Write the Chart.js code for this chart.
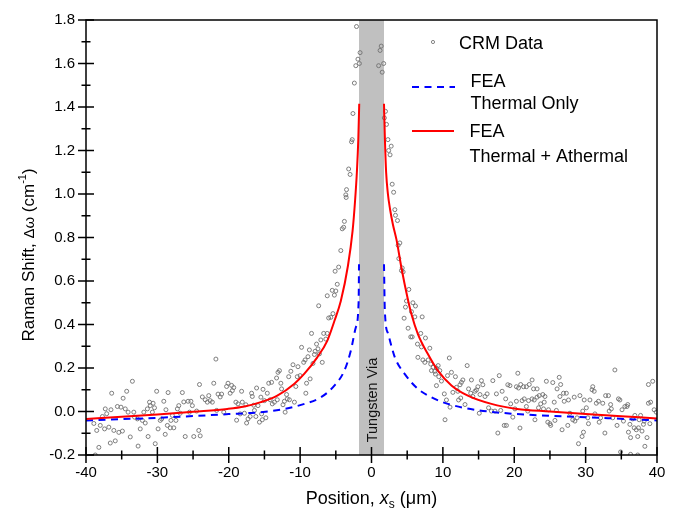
<!DOCTYPE html>
<html>
<head>
<meta charset="utf-8">
<script src="https://cdn.jsdelivr.net/npm/chart.js@4.4.0/dist/chart.umd.min.js"></script>
<style>
  html, body { margin: 0; padding: 0; background: #fff; }
  #wrap { width: 678px; height: 515px; }
</style>
</head>
<body>
<div id="wrap"><canvas id="myChart" width="678" height="515"></canvas></div>
<script>
'use strict';

const crmPoints = [
    [-38.7,-0.200],[-38.2,-0.165],[-38.9,-0.055],[-38.5,-0.087],[-38.0,-0.064],[-37.7,-0.023],[-37.4,-0.080],[-37.1,-0.010],
    [-37.3,0.012],[-36.8,-0.072],[-36.6,-0.145],[-36.5,0.008],[-36.4,0.084],[-36.1,-0.087],[-35.9,-0.135],[-35.6,0.023],
    [-35.4,-0.096],[-35.1,0.020],[-34.8,0.061],[-34.9,-0.090],[-34.5,0.012],[-34.3,0.093],[-34.1,-0.003],[-33.8,-0.117],
    [-33.5,0.139],[-33.3,-0.003],[-33.2,-0.026],[-32.8,-0.034],[-32.7,-0.159],[-32.4,-0.080],[-32.1,-0.041],[-31.9,-0.003],
    [-31.7,-0.053],[-31.4,0.012],[-31.3,-0.115],[-31.1,0.043],[-31.0,0.027],[-30.7,-0.003],[-30.6,0.038],[-30.4,0.017],
    [-30.3,-0.148],[-30.1,0.093],[-29.9,-0.080],[-29.6,-0.041],[-29.4,-0.034],[-29.1,0.047],[-28.9,-0.105],[-28.8,0.008],
    [-28.6,-0.064],[-28.5,0.087],[-28.2,-0.075],[-28.1,-0.041],[-27.9,-0.018],[-27.7,-0.075],[-27.4,-0.041],[-27.2,0.012],
    [-27.0,0.027],[-26.8,-0.008],[-26.5,0.087],[-26.3,0.044],[-26.1,-0.115],[-25.7,0.047],[-25.5,-0.003],[-25.3,0.047],
    [-25.1,0.027],[-24.9,-0.115],[-24.5,0.002],[-24.2,-0.087],[-24.1,0.124],[-24.0,-0.112],[-23.7,0.067],[-23.3,0.054],
    [-23.0,0.043],[-22.8,0.073],[-22.6,0.050],[-22.3,0.043],[-22.1,0.130],[-21.8,0.241],[-21.7,0.005],[-21.5,0.080],
    [-21.2,0.067],[-21.0,0.080],[-20.7,-0.003],[-20.3,0.115],[-20.1,0.130],
    [-19.6,0.120],[-19.5,0.096],[-19.3,0.110],[-19.8,0.084],[-19.0,0.043],[-18.7,0.035],[-18.2,0.093],[-18.4,-0.011],
    [-18.9,-0.040],[-18.1,0.043],[-17.8,-0.008],[-17.6,0.031],[-17.5,-0.053],[-17.3,-0.034],[-17.0,-0.023],[-16.8,0.084],
    [-16.7,0.069],[-16.5,0.029],[-16.4,0.005],[-16.2,-0.023],[-16.1,0.108],[-15.9,0.027],[-15.7,-0.049],[-15.5,0.066],
    [-15.4,-0.011],[-15.3,-0.038],[-15.2,0.102],[-15.0,0.050],[-14.8,-0.029],[-14.6,0.084],[-14.4,0.130],[-14.2,0.054],
    [-14.0,0.134],[-13.9,0.035],[-13.6,0.043],[-13.3,0.154],[-13.2,0.054],[-13.1,0.180],[-12.9,0.188],[-12.7,0.130],
    [-12.6,0.104],[-12.4,0.031],[-12.2,0.047],[-12.1,-0.003],[-11.9,0.078],[-11.8,0.058],[-11.5,0.054],[-11.6,0.160],
    [-11.3,0.185],[-11.0,0.215],[-10.8,0.043],[-10.6,0.115],[-10.4,0.160],[-10.3,0.206],[-10.0,0.165],[-9.8,0.295],
    [-9.5,0.226],[-9.3,0.237],[-9.2,0.084],[-9.1,0.130],[-8.9,0.252],[-8.7,0.283],[-8.6,0.150],[-8.4,0.359],
    [-8.2,0.221],[-8.0,0.262],[-7.9,0.277],[-7.7,0.310],[-7.5,0.288],[-7.3,0.265],[-7.4,0.486],[-7.1,0.329],
    [-6.9,0.226],[-6.7,0.359],[-6.4,0.333],[-6.2,0.532],[-6.2,0.359],[-6.0,0.430],[-5.7,0.433],[-5.5,0.557],
    [-5.4,0.450],[-5.2,0.535],[-5.0,0.554],[-4.8,0.585],[-5.1,0.645],[-4.6,0.664],[-4.3,0.740],[-4.1,0.840],
    [-3.9,0.847],[-3.8,0.874],
    [-3.55,0.984],[-3.6,0.996],[-3.5,1.020],[-3.0,1.090],[-3.2,1.115],[-2.8,1.240],[-2.7,1.250],[-2.6,1.370],
    [-2.4,1.510],[-2.2,1.590],[-1.7,1.600],[-1.9,1.620],[-1.6,1.650],[-2.1,1.770],
    [1.0,1.590],[1.2,1.660],[1.36,1.680],[1.5,1.560],[1.7,1.600],[1.8,1.350],[1.96,1.380],[2.1,1.320],
    [2.3,1.250],[2.4,1.200],[2.6,1.180],[2.76,1.220],[2.9,1.045],[3.1,1.008],
    [3.27,0.928],[3.36,0.902],[3.64,0.878],[3.97,0.775],[3.73,0.764],[3.83,0.703],[4.3,0.660],[4.43,0.642],
    [4.2,0.648],[5.23,0.561],[4.9,0.508],[5.8,0.500],[6.16,0.485],[5.6,0.459],[4.76,0.480],[4.57,0.429],
    [6.07,0.435],[7.1,0.435],[5.13,0.383],[5.5,0.343],[5.7,0.343],[6.9,0.359],[7.56,0.338],[6.44,0.310],
    [7.0,0.297],[8.17,0.291],[6.5,0.249],[7.2,0.237],[7.47,0.226],[7.94,0.237],[8.3,0.218],[8.64,0.203],
    [8.4,0.188],[8.87,0.185],[9.1,0.200],[9.34,0.211],[9.57,0.188],[8.96,0.172],[9.43,0.160],[10.9,0.246],
    [11.2,0.180],[9.8,0.140],[9.1,0.119],[10.2,0.081],[10.5,0.053],[10.65,0.165],[11.0,0.020],[10.3,-0.038],
    [11.4,0.088],[11.76,0.160],[11.9,0.111],[12.1,0.093],[12.4,0.123],[12.6,0.134],[12.8,0.145],[12.2,0.053],
    [12.5,0.062],[13.1,0.032],[13.4,0.211],[13.6,0.104],[13.9,0.084],[14.0,0.145],[14.2,0.069],[14.5,0.093],
    [14.7,0.099],[14.9,0.114],[15.2,0.078],[15.4,0.142],[15.6,0.123],[15.1,-0.008],[15.9,0.069],[16.2,0.081],
    [16.4,0.017],[16.8,0.002],[17.0,0.142],[17.3,0.002],[17.5,0.081],[17.7,-0.099],[17.9,0.165],[18.1,0.005],
    [18.3,0.093],[18.6,-0.064],[18.9,-0.064],[18.8,0.058],[19.1,0.123],[19.4,0.119],[19.5,0.035],[19.8,-0.026],
    [20.1,0.012],
    [20.5,0.176],[20.3,0.114],[20.6,0.108],[20.9,0.124],[21.3,0.114],[21.7,0.114],[22.1,0.124],[22.5,0.145],
    [22.7,0.104],[23.2,0.104],[20.3,0.047],[21.1,0.050],[21.4,0.058],[22.0,0.050],[22.5,0.058],[22.8,0.053],
    [23.2,0.066],[23.5,0.073],[24.0,0.078],[24.3,0.069],[21.7,0.023],[21.9,0.002],[22.9,-0.038],[23.4,0.017],
    [23.7,0.035],[24.1,0.012],[24.2,0.043],[20.8,-0.076],[24.5,0.139],[24.8,0.008],[24.7,-0.049],[25.0,-0.056],
    [25.1,-0.064],[25.4,0.133],[25.6,0.043],[25.7,-0.041],[25.9,0.005],[26.0,0.104],[26.3,0.157],[26.4,0.069],
    [26.5,0.124],[26.7,-0.084],[26.9,0.084],[27.0,0.047],[27.3,0.084],[27.5,-0.064],[27.6,0.053],[27.8,-0.008],
    [28.2,-0.038],[28.4,0.066],[28.5,-0.044],[28.8,-0.029],[29.0,-0.148],[29.2,0.073],[29.5,-0.115],[29.6,0.002],
    [29.7,-0.095],[29.8,0.053],[30.1,0.017],[30.3,-0.029],[30.4,-0.056],[30.6,0.053],[30.9,0.100],[31.0,0.114],
    [31.2,0.093],[31.3,-0.011],[31.5,0.038],[31.8,0.047],[31.9,-0.049],[32.1,-0.029],[32.4,0.038],[32.7,-0.099],
    [32.8,0.073],[33.2,0.073],[33.3,0.002],[33.5,0.032],[33.6,0.012],[33.8,-0.029],[34.1,0.191],[34.4,-0.064],
    [34.6,0.058],[34.8,0.053],[34.9,-0.186],[35.1,0.008],[35.3,-0.044],[35.5,0.023],[35.8,0.023],[35.9,0.032],
    [36.0,-0.095],[36.2,-0.059],[36.3,-0.120],[36.3,-0.197],[36.6,-0.034],[36.8,-0.075],[36.9,-0.018],[37.1,-0.084],
    [37.3,-0.115],[37.4,-0.075],[37.5,-0.038],[37.7,-0.018],[37.9,-0.090],[38.1,-0.059],[38.2,-0.044],[38.3,-0.160],
    [38.6,-0.120],[38.8,0.038],[39.0,-0.056],[39.1,0.043],[38.8,0.124],[39.4,0.139],[39.6,0.008],[39.9,-0.003],
    [37.3,-0.200]
];

// FEA thermal + athermal (red), null splits the two sides of the via
const redX = [-40,-35,-30,-25,-20.2,-17.8,-15.5,-13.2,-10.8,-9.4,-7.6,-6.2,-5.2,-4.3,-3.3,-2.65,-2.3,-2.05,-1.85,-1.72,
              0,
              1.75,1.88,2.05,2.3,2.6,3.0,3.5,4.2,5.0,5.6,6.5,7.9,9.3,11.2,13.5,16.8,20.4,25,30,35,40];
const redY = [-0.034,-0.024,-0.014,-0.001,0.012,0.023,0.043,0.073,0.128,0.174,0.249,0.325,0.416,0.508,0.67,0.83,0.97,1.10,1.25,1.415,
              null,
              1.415,1.25,1.10,1.0,0.93,0.86,0.79,0.66,0.53,0.447,0.356,0.264,0.188,0.12,0.073,0.035,0.012,0.0,-0.012,-0.022,-0.032];

// FEA thermal only (blue dashed)
const blueX = [-40,-30,-20,-15.5,-12.2,-9.4,-7.1,-5.2,-3.8,-2.9,-2.2,-1.8,-1.75,
               0,
               1.75,1.87,2.33,3.27,4.67,6.5,8.4,10.7,14.5,20.1,30,40];
const blueY = [-0.041,-0.029,-0.012,-0.003,0.012,0.035,0.065,0.119,0.188,0.279,0.386,0.508,0.677,
               null,
               0.677,0.462,0.357,0.249,0.172,0.104,0.065,0.035,0.008,-0.011,-0.026,-0.041];

const viaRange = [-1.75, 1.75];
const xTicks = [-40,-30,-20,-10,0,10,20,30,40];
const xMinor = [-35,-25,-15,-5,5,15,25,35];
const yTicks = [-0.2,0,0.2,0.4,0.6,0.8,1.0,1.2,1.4,1.6,1.8];
const yMinor = [-0.1,0.1,0.3,0.5,0.7,0.9,1.1,1.3,1.5,1.7];

const FONT = '"Liberation Sans", Arial, sans-serif';

function toXY(xs, ys) {
    return xs.map((x, i) => ({x: x, y: ys[i]}));
}

const decor = {
    id: 'decor',
    beforeDatasetsDraw(chart) {
        const {ctx, chartArea: a, scales: {x}} = chart;
        ctx.save();
        ctx.fillStyle = '#c0c0c0';
        const x0 = x.getPixelForValue(viaRange[0]);
        const x1 = x.getPixelForValue(viaRange[1]);
        ctx.fillRect(x0, a.top, x1 - x0, a.bottom - a.top);
        ctx.restore();
    },
    afterDraw(chart) {
        const {ctx, chartArea: a, scales: {x, y}} = chart;
        ctx.save();
        ctx.strokeStyle = '#000';
        ctx.lineWidth = 1.5;
        ctx.strokeRect(a.left, a.top, a.right - a.left, a.bottom - a.top);

        // ticks crossing the left and bottom axes
        ctx.lineWidth = 1.5;
        ctx.beginPath();
        xTicks.forEach(v => { const p = x.getPixelForValue(v); ctx.moveTo(p, a.bottom - 8); ctx.lineTo(p, a.bottom + 8); });
        xMinor.forEach(v => { const p = x.getPixelForValue(v); ctx.moveTo(p, a.bottom - 4.5); ctx.lineTo(p, a.bottom + 4.5); });
        yTicks.forEach(v => { const p = y.getPixelForValue(v); ctx.moveTo(a.left - 8, p); ctx.lineTo(a.left + 8, p); });
        yMinor.forEach(v => { const p = y.getPixelForValue(v); ctx.moveTo(a.left - 4.5, p); ctx.lineTo(a.left + 4.5, p); });
        ctx.stroke();

        // via label
        ctx.fillStyle = '#111';
        ctx.font = '14.5px ' + FONT;
        ctx.textAlign = 'center';
        ctx.textBaseline = 'alphabetic';
        ctx.save();
        ctx.translate(x.getPixelForValue(0) + 5, 400);
        ctx.rotate(-Math.PI / 2);
        ctx.fillText('Tungsten Via', 0, 0);
        ctx.restore();

        // legend
        ctx.fillStyle = '#000';
        ctx.textAlign = 'left';
        ctx.font = '18px ' + FONT;
        ctx.strokeStyle = '#777';
        ctx.lineWidth = 0.9;
        ctx.beginPath();
        ctx.arc(433, 42, 1.6, 0, Math.PI * 2);
        ctx.stroke();
        ctx.fillText('CRM Data', 459, 48.5);

        ctx.strokeStyle = '#0000ff';
        ctx.lineWidth = 2;
        ctx.setLineDash([7, 5.5]);
        ctx.beginPath();
        ctx.moveTo(412, 87); ctx.lineTo(455, 87);
        ctx.stroke();
        ctx.setLineDash([]);
        ctx.fillText('FEA', 470.5, 87);
        ctx.fillText('Thermal Only', 470.5, 108.5);

        ctx.strokeStyle = '#ff0000';
        ctx.beginPath();
        ctx.moveTo(412, 131); ctx.lineTo(454, 131);
        ctx.stroke();
        ctx.fillText('FEA', 469.5, 137);
        ctx.fillText('Thermal + Athermal', 469.5, 161.5);

        // x axis title
        const xParts = [
            {t: 'Position, ', f: '18px ' + FONT, dy: 0},
            {t: 'x', f: 'italic 18px ' + FONT, dy: 0},
            {t: 's', f: '12px ' + FONT, dy: 4},
            {t: ' (\u03bcm)', f: '18px ' + FONT, dy: 0}
        ];
        drawParts(ctx, xParts, (a.left + a.right) / 2, 504, false);

        // y axis title
        const yParts = [
            {t: 'Raman Shift, ', f: '17px ' + FONT, dy: 0},
            {t: '\u0394\u03c9', f: '15px ' + FONT, dy: 0},
            {t: ' (cm', f: '17px ' + FONT, dy: 0},
            {t: '-1', f: '11px ' + FONT, dy: -8},
            {t: ')', f: '17px ' + FONT, dy: 0}
        ];
        drawParts(ctx, yParts, 33.5, 255, true);
        ctx.restore();
    }
};

function drawParts(ctx, parts, cx, base, rotated) {
    let w = 0;
    parts.forEach(p => { ctx.font = p.f; w += ctx.measureText(p.t).width; });
    ctx.save();
    ctx.translate(cx, base);
    if (rotated) ctx.rotate(-Math.PI / 2);
    ctx.fillStyle = '#000';
    ctx.textAlign = 'left';
    ctx.textBaseline = 'alphabetic';
    let pos = -w / 2;
    parts.forEach(p => {
        ctx.font = p.f;
        ctx.fillText(p.t, pos, p.dy);
        pos += ctx.measureText(p.t).width;
    });
    ctx.restore();
}

const config = {
    type: 'scatter',
    data: {
        datasets: [
            {
                type: 'line',
                label: 'FEA Thermal + Athermal',
                data: toXY(redX, redY),
                borderColor: '#ff0000',
                borderWidth: 2,
                pointRadius: 0,
                spanGaps: false,
                cubicInterpolationMode: 'monotone',
                fill: false
            },
            {
                type: 'line',
                label: 'FEA Thermal Only',
                data: toXY(blueX, blueY),
                borderColor: '#0000ff',
                borderWidth: 2,
                borderDash: [7, 5.5],
                pointRadius: 0,
                spanGaps: false,
                cubicInterpolationMode: 'monotone',
                fill: false
            },
            {
                label: 'CRM Data',
                data: crmPoints.map(p => ({x: p[0], y: p[1]})),
                pointStyle: 'circle',
                pointRadius: 2,
                borderWidth: 0.9,
                borderColor: '#707070',
                backgroundColor: 'rgba(255,255,255,0)'
            }
        ]
    },
    options: {
        responsive: false,
        animation: false,
        events: [],
        layout: { padding: { top: 18, right: 21, left: 0, bottom: 0 } },
        plugins: {
            legend: { display: false },
            tooltip: { enabled: false }
        },
        scales: {
            x: {
                type: 'linear',
                min: -40,
                max: 40,
                grid: { display: false, drawTicks: false },
                border: { display: false },
                afterBuildTicks: s => { s.ticks = xTicks.map(v => ({value: v})); },
                afterFit: s => { s.height = 60; },
                ticks: {
                    padding: 9,
                    color: '#000',
                    font: { family: FONT, size: 15 },
                    maxRotation: 0,
                    callback: v => String(v)
                }
            },
            y: {
                type: 'linear',
                min: -0.2,
                max: 1.8,
                grid: { display: false, drawTicks: false },
                border: { display: false },
                afterBuildTicks: s => { s.ticks = yTicks.map(v => ({value: v})); },
                afterFit: s => { s.width = 86; },
                ticks: {
                    padding: 11,
                    color: '#000',
                    font: { family: FONT, size: 15 },
                    callback: v => Number(v).toFixed(1)
                }
            }
        }
    },
    plugins: [decor]
};

const myChart = new Chart(document.getElementById('myChart'), config);
</script>
</body>
</html>
